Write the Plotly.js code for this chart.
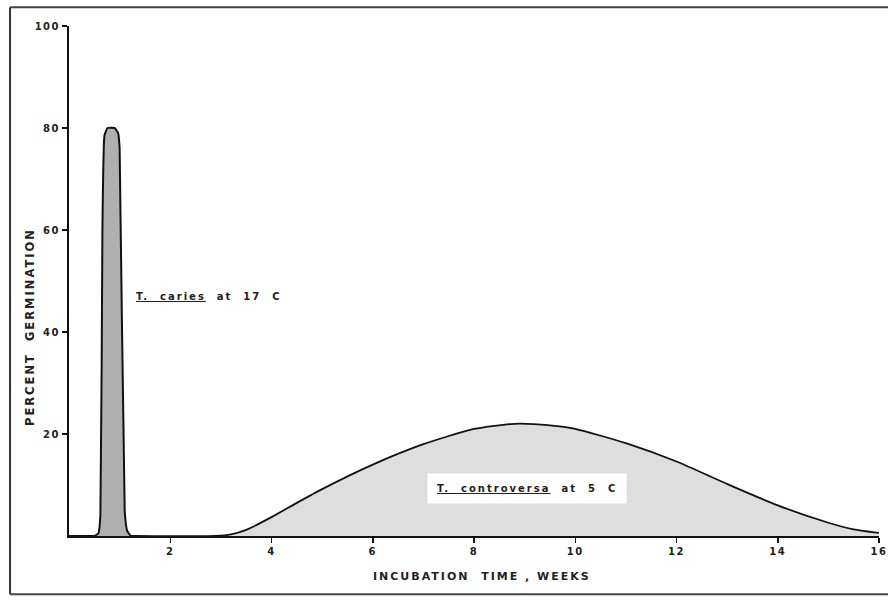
<!DOCTYPE html>
<html>
<head>
<meta charset="utf-8">
<script src="https://cdn.plot.ly/plotly-3.0.1.min.js"></script>
<style>
html,body{margin:0;padding:0;background:#fff;}
#chart{width:888px;height:600px;}
.annotation-text{letter-spacing:2px;}
.xtick text,.ytick text{letter-spacing:1.5px;}
</style>
</head>
<body>
<div id="chart"></div>
<script>
// T. caries at 17 C
var cariesWeeks = [0.5, 0.58, 0.62, 0.66, 0.7, 0.76, 0.9, 0.97, 1.0, 1.1, 1.15, 1.22];
var cariesPct   = [0,   0.5,  4,    60,   78.5, 80,  80,  79,   76,  5,   1,    0];
// T. controversa at 5 C
var controWeeks = [0, 1.3, 2.9, 3.2, 3.5, 4, 4.5, 5, 6, 7, 8, 8.8, 9.5, 10, 11, 12, 13, 14, 15, 15.5, 16];
var controPct   = [0, 0,   0,   0.3, 1.2, 3.7, 6.5, 9.2, 14, 18, 21, 22, 21.7, 21, 18.2, 14.6, 10.2, 6, 2.6, 1.3, 0.6];

var xTicks = [2, 4, 6, 8, 10, 12, 14, 16];
var yTicks = [20, 40, 60, 80, 100];

var fontFam = '"DejaVu Sans", Arial, sans-serif';

var traces = [
  {
    x: controWeeks, y: controPct, type: 'scatter', mode: 'lines',
    fill: 'tozeroy', fillcolor: '#dedede',
    line: {color: '#111', width: 1.8, shape: 'spline', smoothing: 0.6},
    hoverinfo: 'skip', showlegend: false
  },
  {
    x: cariesWeeks, y: cariesPct, type: 'scatter', mode: 'lines',
    fill: 'tozeroy', fillcolor: '#b0b0b0',
    line: {color: '#111', width: 2, shape: 'spline', smoothing: 0.4},
    hoverinfo: 'skip', showlegend: false
  }
];

var layout = {
  width: 888, height: 600,
  margin: {l: 69, r: 9, t: 26, b: 64},
  paper_bgcolor: '#fff', plot_bgcolor: '#fff',
  showlegend: false,
  xaxis: {
    range: [0, 16], tickvals: xTicks, ticktext: xTicks.map(String),
    showgrid: false, zeroline: false, showline: true, linecolor: '#111', linewidth: 2,
    ticks: 'outside', ticklen: 5, tickwidth: 1.5, tickcolor: '#111',
    tickfont: {family: fontFam, size: 10, color: '#222', weight: 'bold'}
  },
  yaxis: {
    range: [0, 100], tickvals: yTicks, ticktext: yTicks.map(String),
    showgrid: false, zeroline: false, showline: true, linecolor: '#111', linewidth: 2,
    ticks: 'outside', ticklen: 5, tickwidth: 1.5, tickcolor: '#111',
    tickfont: {family: fontFam, size: 10, color: '#222', weight: 'bold'}
  },
  shapes: [
    {type: 'line', xref: 'paper', yref: 'paper', x0: -0.0728, x1: -0.0728, y0: -0.114, y1: 1.037, line: {color: '#333', width: 2}},
    {type: 'line', xref: 'paper', yref: 'paper', x0: -0.0728, x1: 1.02, y0: 1.037, y1: 1.037, line: {color: '#444', width: 2}},
    {type: 'line', xref: 'paper', yref: 'paper', x0: -0.0728, x1: 1.02, y0: -0.114, y1: -0.114, line: {color: '#444', width: 2}}
  ],
  annotations: [
    {xref: 'paper', yref: 'paper', x: 0.5099, y: -0.08, xanchor: 'center', yanchor: 'middle',
     text: 'INCUBATION  TIME , WEEKS', showarrow: false,
     font: {family: fontFam, size: 11, color: '#222', weight: 'bold'}},
    {xref: 'paper', yref: 'paper', x: -0.048, y: 0.41, xanchor: 'center', yanchor: 'middle',
     text: 'PERCENT  GERMINATION', textangle: -90, showarrow: false,
     font: {family: fontFam, size: 11.5, color: '#222', weight: 'bold'}},
    {xref: 'x', yref: 'y', x: 1.28, y: 47, xanchor: 'left', yanchor: 'middle',
     text: '<u>T.  caries</u>  at  17  C', showarrow: false,
     font: {family: fontFam, size: 10, color: '#222', weight: 'bold'}},
    {xref: 'x', yref: 'y', x: 9.05, y: 9.4, xanchor: 'center', yanchor: 'middle',
     text: '<u>T.  controversa</u>  at  5  C', showarrow: false,
     bgcolor: '#ffffff', borderpad: 9,
     font: {family: fontFam, size: 10, color: '#222', weight: 'bold'}}
  ]
};

Plotly.newPlot('chart', traces, layout, {displayModeBar: false, staticPlot: true});
</script>
</body>
</html>
